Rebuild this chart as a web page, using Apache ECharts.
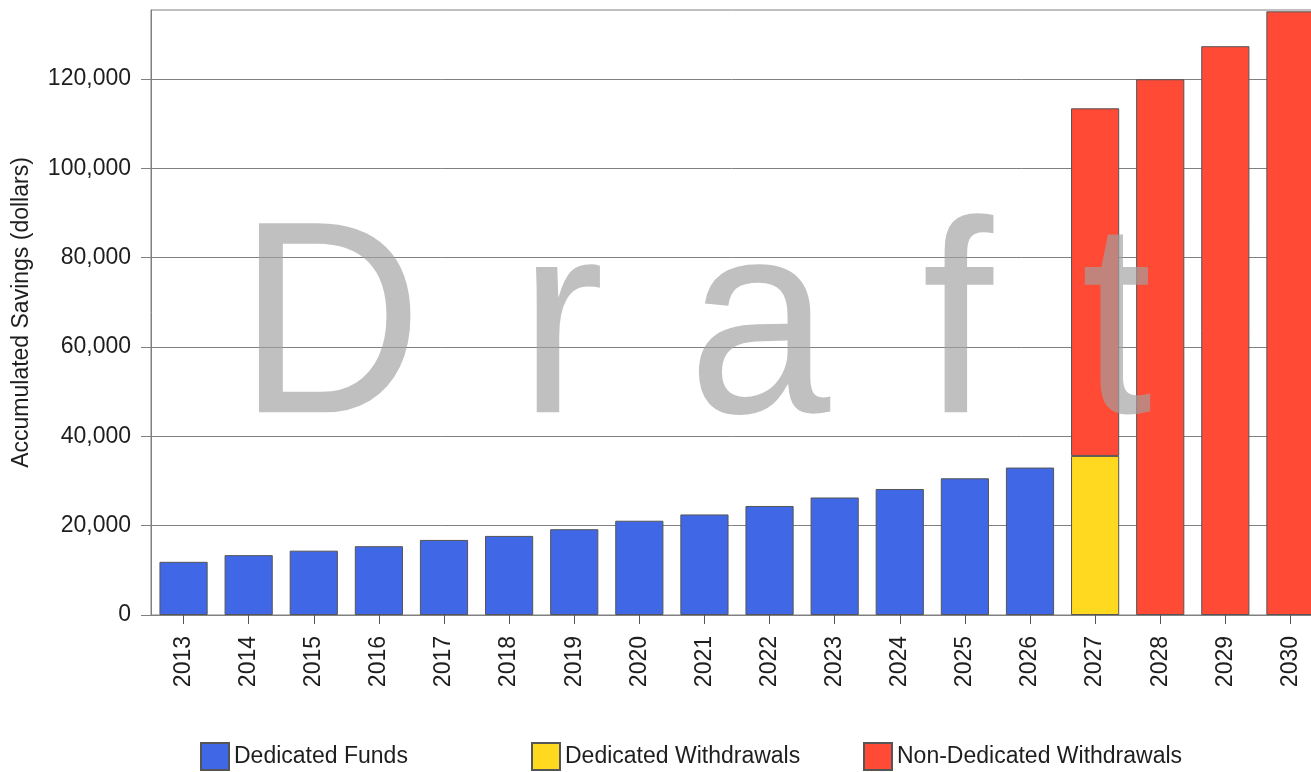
<!DOCTYPE html>
<html>
<head>
<meta charset="utf-8">
<title>Accumulated Savings</title>
<script src="https://cdn.jsdelivr.net/npm/echarts@6/dist/echarts.min.js"></script>
<style>
  html, body { margin: 0; padding: 0; background: #ffffff; }
  #chart { width: 1311px; height: 772px; }
</style>
</head>
<body>
<div id="chart"></div>
<script>
// Years on the category axis
const years = ['2013','2014','2015','2016','2017','2018','2019','2020','2021',
               '2022','2023','2024','2025','2026','2027','2028','2029','2030'];

// Stacked series values (dollars); '-' means no segment for that year
const dedicatedFunds = [11900, 13400, 14400, 15400, 16800, 17700, 19200, 21100, 22500,
                        24400, 26300, 28200, 30600, 33000, '-', '-', '-', '-'];
const dedicatedWithdrawals = ['-', '-', '-', '-', '-', '-', '-', '-', '-',
                              '-', '-', '-', '-', '-', 35600, '-', '-', '-'];
const nonDedicatedWithdrawals = ['-', '-', '-', '-', '-', '-', '-', '-', '-',
                                 '-', '-', '-', '-', '-', 77800, 119900, 127300, 135100];

// Labelled ticks on the value axis
const yTicks = [0, 20000, 40000, 60000, 80000, 100000, 120000];
const yMax = 135400;

// Watermark letters
const watermark = ['D', 'r', 'a', 'f', 't'];

const FONT = '"Liberation Sans", Arial, sans-serif';
const FONT_SIZE = 23;
const TEXT_COLOR = '#1e1e1e';
const LINE_COLOR = '#808080';

const seriesNames = ['Dedicated Funds', 'Dedicated Withdrawals', 'Non-Dedicated Withdrawals'];
const seriesColors = ['#4068e6', '#ffd820', '#ff4a36'];
const seriesData = [dedicatedFunds, dedicatedWithdrawals, nonDedicatedWithdrawals];

const chart = echarts.init(document.getElementById('chart'), null, { renderer: 'canvas' });

const fmt = v => Number(v).toLocaleString('en-US');

// One legend per entry so each sits in its own fixed column
const legendLefts = [200, 531, 863];
const legends = seriesNames.map((name, i) => ({
  data: [name],
  left: legendLefts[i],
  top: 742,
  padding: 0,
  orient: 'horizontal',
  icon: 'rect',
  itemWidth: 28,
  itemHeight: 27,
  selectedMode: false,
  textStyle: { fontFamily: FONT, fontSize: FONT_SIZE, color: TEXT_COLOR }
}));

// Large translucent "Draft" stamp across the plot, slightly condensed
const wmX = [238, 519, 688, 922, 1081];
const graphic = watermark.map((ch, i) => ({
  type: 'text',
  x: wmX[i],
  y: 199,
  scaleX: 0.93,
  z: 100,
  silent: true,
  style: {
    text: ch,
    x: 0,
    y: 0,
    align: 'left',
    verticalAlign: 'top',
    font: '275px ' + FONT,
    fill: '#a1a1a1',
    opacity: 0.67
  }
}));

const option = {
  animation: false,
  backgroundColor: '#ffffff',
  textStyle: { fontFamily: FONT },
  grid: {
    show: true,
    borderColor: LINE_COLOR,
    borderWidth: 1,
    left: 151,
    top: 10,
    bottom: 157,
    right: -12,
    containLabel: false,
    outerBoundsMode: 'none'
  },
  legend: legends,
  graphic: graphic,
  xAxis: {
    type: 'category',
    data: years,
    boundaryGap: true,
    axisLine: { show: true, lineStyle: { color: LINE_COLOR, width: 1 } },
    axisTick: { show: true, alignWithLabel: true, length: 9, lineStyle: { color: '#555555' } },
    axisLabel: {
      rotate: 90,
      margin: 21,
      fontFamily: FONT,
      fontSize: FONT_SIZE,
      color: TEXT_COLOR
    },
    splitLine: { show: false }
  },
  yAxis: {
    type: 'value',
    min: 0,
    max: yMax,
    interval: 20000,
    name: 'Accumulated Savings (dollars)',
    nameLocation: 'middle',
    nameGap: 118,
    nameTextStyle: { fontFamily: FONT, fontSize: FONT_SIZE, color: TEXT_COLOR },
    axisLine: { show: true, lineStyle: { color: LINE_COLOR, width: 1 } },
    axisTick: { show: true, length: 10, customValues: yTicks, lineStyle: { color: LINE_COLOR } },
    axisLabel: {
      customValues: yTicks,
      margin: 20,
      fontFamily: FONT,
      fontSize: FONT_SIZE,
      color: TEXT_COLOR,
      formatter: v => fmt(v)
    },
    splitLine: { show: true, lineStyle: { color: LINE_COLOR, width: 1 } }
  },
  series: seriesNames.map((name, i) => ({
    name: name,
    type: 'bar',
    stack: 'savings',
    data: seriesData[i],
    barWidth: '74%',
    itemStyle: {
      color: seriesColors[i],
      borderColor: '#555555',
      borderWidth: 1
    },
    emphasis: { disabled: true }
  }))
};

chart.setOption(option);
</script>
</body>
</html>
